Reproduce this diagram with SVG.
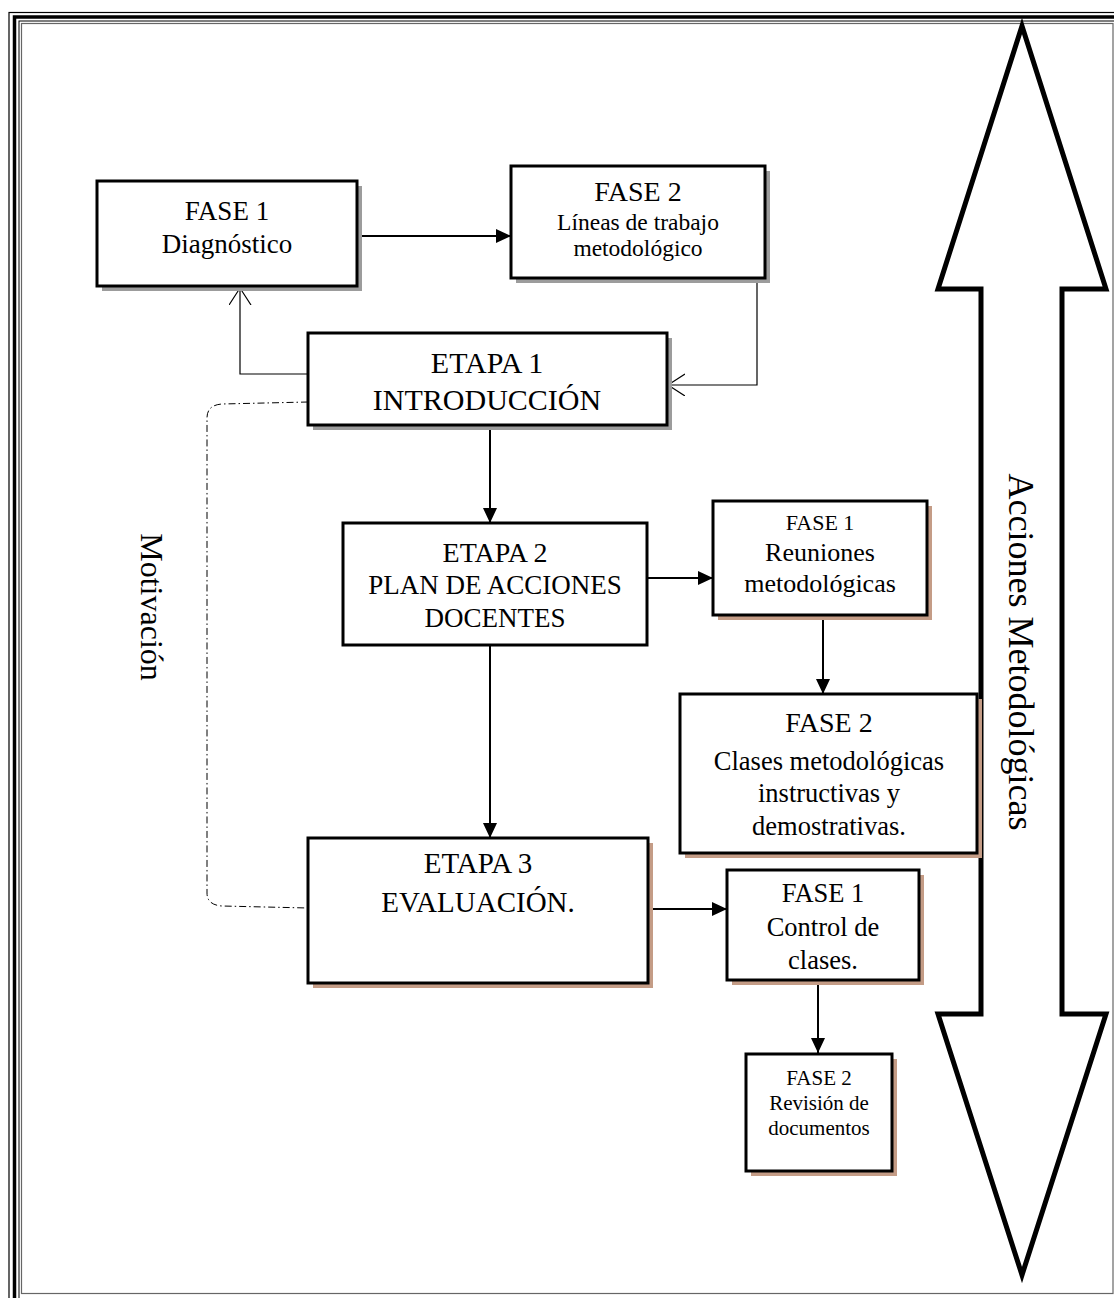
<svg xmlns="http://www.w3.org/2000/svg" width="1114" height="1298" viewBox="0 0 1114 1298">
<style>
.box{fill:#fff;stroke:#000;stroke-width:3}
.sg{fill:#9c9c9c}
.sb{fill:#c49c86}
.t{font-family:"Liberation Serif","Times New Roman",serif;text-anchor:middle;fill:#000}
.c{fill:none;stroke:#000;stroke-width:2}
.ct{fill:none;stroke:#000;stroke-width:1.2}
.fr{fill:none;stroke:#000}
</style>
<defs>
<marker id="af" markerUnits="userSpaceOnUse" markerWidth="16" markerHeight="16" refX="15" refY="7" orient="auto"><path d="M0,0 L15,7 L0,14z" fill="#000"/></marker>
<marker id="ao" markerUnits="userSpaceOnUse" markerWidth="20" markerHeight="24" refX="17" refY="11" orient="auto"><path d="M0,0 L17,11 L0,22" fill="none" stroke="#000" stroke-width="1.2"/></marker>
</defs>
<rect width="1114" height="1298" fill="#fff"/>
<g id="frame">
<rect class="fr" x="9" y="12.5" width="1300" height="1400" stroke-width="1.2"/>
<rect class="fr" x="14.5" y="17" width="1300" height="1400" stroke-width="3.5"/>
<rect class="fr" x="19" y="21" width="1300" height="1400" stroke-width="1"/>
<rect x="21.5" y="23.5" width="1091.5" height="1270" fill="none" stroke="#666" stroke-width="1.2"/>
</g>
<g id="big-arrow">
<polygon points="1022,26 1106,289 1062,289 1062,1014 1106,1014 1022,1275 938,1014 981,1014 981,289 938,289" fill="#fff" stroke="#000" stroke-width="5" stroke-miterlimit="10"/>
<text class="t" transform="translate(1021,652) rotate(90)" x="0" y="12" font-size="36">Acciones Metodológicas</text>
</g>
<g id="motivacion">
<text class="t" transform="translate(152,607) rotate(90)" x="0" y="11" font-size="32">Motivación</text>
</g>
<g id="connectors">
<path class="c" d="M357,236 H511" marker-end="url(#af)"/>
<path class="ct" d="M308,374 H240 V288" marker-end="url(#ao)"/>
<path class="ct" d="M757,278 V385 H668" marker-end="url(#ao)"/>
<path class="c" d="M490,425 V523" marker-end="url(#af)"/>
<path class="c" d="M642,578 H713" marker-end="url(#af)"/>
<path class="c" d="M823,615 V694" marker-end="url(#af)"/>
<path class="c" d="M490,645 V838" marker-end="url(#af)"/>
<path class="c" d="M648,909 H727" marker-end="url(#af)"/>
<path class="c" d="M818,980 V1053" marker-end="url(#af)"/>
<path d="M308,402 L222,404 Q207,405 207,418 L207,893 Q207,905 222,906 L308,908" fill="none" stroke="#000" stroke-width="1" stroke-dasharray="7 3 1.5 3"/>
</g>
<g id="fase1-diag">
<rect class="sg" x="102" y="186" width="260" height="105"/>
<rect class="box" x="97" y="181" width="260" height="105"/>
<text class="t" x="227" y="220" font-size="27">FASE 1</text>
<text class="t" x="227" y="253" font-size="27">Diagnóstico</text>
</g>
<g id="fase2-lineas">
<rect class="sg" x="516" y="171" width="254" height="112"/>
<rect class="box" x="511" y="166" width="254" height="112"/>
<text class="t" x="638" y="201" font-size="28">FASE 2</text>
<text class="t" x="638" y="230" font-size="23.5">Líneas de trabajo</text>
<text class="t" x="638" y="256" font-size="23.5">metodológico</text>
</g>
<g id="etapa1">
<rect class="sg" x="313" y="338" width="359" height="92"/>
<rect class="box" x="308" y="333" width="359" height="92"/>
<text class="t" x="487" y="373" font-size="30">ETAPA 1</text>
<text class="t" x="487" y="410" font-size="30">INTRODUCCIÓN</text>
</g>
<g id="etapa2">
<rect class="box" x="343" y="523" width="304" height="122"/>
<text class="t" x="495" y="562" font-size="28">ETAPA 2</text>
<text class="t" x="495" y="594" font-size="27">PLAN DE ACCIONES</text>
<text class="t" x="495" y="627" font-size="27">DOCENTES</text>
</g>
<g id="fase1-reuniones">
<rect class="sb" x="718" y="506" width="214" height="114"/>
<rect class="box" x="713" y="501" width="214" height="114"/>
<text class="t" x="820" y="530" font-size="22">FASE 1</text>
<text class="t" x="820" y="561" font-size="26">Reuniones</text>
<text class="t" x="820" y="592" font-size="26">metodológicas</text>
</g>
<g id="fase2-clases">
<rect class="sb" x="685" y="699" width="297" height="159"/>
<rect class="box" x="680" y="694" width="297" height="159"/>
<text class="t" x="829" y="732" font-size="28">FASE 2</text>
<text class="t" x="829" y="770" font-size="26.5">Clases metodológicas</text>
<text class="t" x="829" y="802" font-size="26.5">instructivas y</text>
<text class="t" x="829" y="835" font-size="26.5">demostrativas.</text>
</g>
<g id="etapa3">
<rect class="sb" x="313" y="843" width="340" height="145"/>
<rect class="box" x="308" y="838" width="340" height="145"/>
<text class="t" x="478" y="873" font-size="29">ETAPA 3</text>
<text class="t" x="478" y="912" font-size="29">EVALUACIÓN.</text>
</g>
<g id="fase1-control">
<rect class="sb" x="732" y="875" width="192" height="110"/>
<rect class="box" x="727" y="870" width="192" height="110"/>
<text class="t" x="823" y="902" font-size="26.5">FASE 1</text>
<text class="t" x="823" y="936" font-size="26.5">Control de</text>
<text class="t" x="823" y="969" font-size="26.5">clases.</text>
</g>
<g id="fase2-revision">
<rect class="sb" x="751" y="1059" width="146" height="117"/>
<rect class="box" x="746" y="1054" width="146" height="117"/>
<text class="t" x="819" y="1085" font-size="21">FASE 2</text>
<text class="t" x="819" y="1110" font-size="21">Revisión de</text>
<text class="t" x="819" y="1135" font-size="21">documentos</text>
</g>
</svg>
